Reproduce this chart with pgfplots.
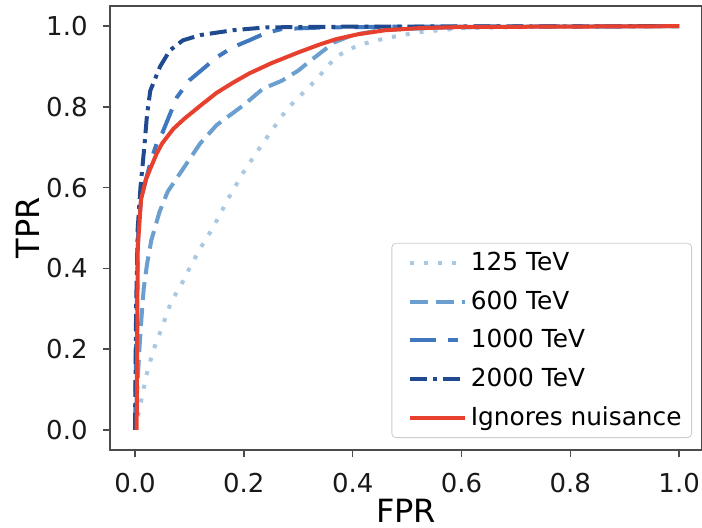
\documentclass[border=0pt]{standalone}
\usepackage{pgfplots}
\pgfplotsset{compat=1.18}
\usepackage{fontspec}
\setmainfont{DejaVu Sans}
\definecolor{c125}{HTML}{A9C8E2}
\definecolor{c600}{HTML}{6A9FCF}
\definecolor{c1000}{HTML}{3F78BF}
\definecolor{c2000}{HTML}{1F4A8F}
\definecolor{cred}{HTML}{E8402E}
\begin{document}
\begin{tikzpicture}
\begin{axis}[
  scale only axis, width=296pt, height=222pt,
  xmin=-0.046, xmax=1.042, ymin=-0.05, ymax=1.05,
  xtick={0,0.2,0.4,0.6,0.8,1.0}, ytick={0,0.2,0.4,0.6,0.8,1.0},
  xticklabels={0.0,0.2,0.4,0.6,0.8,1.0},
  yticklabels={0.0,0.2,0.4,0.6,0.8,1.0},
  /pgf/number format/assume math mode=true,
  tick align=outside, major tick length=3.5pt,
  xtick pos=bottom, ytick pos=left,
  every tick/.style={black!70, line width=0.7pt},
  axis line style={black!70, line width=0.8pt},
  tick label style={font=\fontsize{13}{15}\selectfont, inner sep=0pt, text=black!90},
  xticklabel style={anchor=north}, yticklabel style={anchor=east},
  xticklabel shift=8pt, yticklabel shift=7.5pt,
  xlabel={FPR}, ylabel={TPR},
  label style={font=\fontsize{16}{18}\selectfont, inner sep=0pt},
  xlabel style={at={(axis description cs:0.5,-0.1622)}, anchor=base},
  ylabel style={at={(axis description cs:-0.1182,0.5)}, anchor=south, rotate=0},
  legend cell align=left,
  legend style={at={(axis description cs:1,0)}, anchor=south east,
    xshift=-5pt, yshift=6pt, draw=black!20, rounded corners=2pt,
    font=\fontsize{12.4}{14}\selectfont, inner xsep=3pt, inner ysep=2.5pt,
    row sep=4.6pt, column sep=0pt},
  legend image code/.code={\path (-5pt,0pt); \draw[#1] (0pt,0pt) -- (27.5pt,0pt);},
  every axis plot/.append style={line width=2pt, line join=round},
]
\addplot[c125, dash pattern=on 2pt off 5pt] coordinates {
(0,0)(0.005,0.03)(0.011,0.07)(0.02,0.13)(0.033,0.195)(0.05,0.255)(0.066,0.316)
(0.085,0.36)(0.1,0.4)(0.12,0.45)(0.143,0.5)(0.171,0.572)(0.2,0.64)(0.237,0.714)
(0.28,0.796)(0.33,0.863)(0.37,0.925)(0.41,0.953)(0.46,0.97)(0.52,0.985)(0.6,0.995)
(0.75,0.999)(1,1)};
\addlegendentry{125 TeV}
\addplot[c600, dash pattern=on 9pt off 4pt] coordinates {
(0,0)(0.004,0.1)(0.008,0.2)(0.012,0.28)(0.016,0.35)(0.022,0.41)(0.03,0.47)
(0.045,0.54)(0.06,0.59)(0.085,0.64)(0.12,0.71)(0.15,0.755)(0.17,0.775)(0.2,0.805)
(0.235,0.845)(0.27,0.865)(0.3,0.89)(0.32,0.912)(0.366,0.96)(0.40,0.978)(0.45,0.99)
(0.55,0.996)(0.7,0.999)(1,1)};
\addlegendentry{600 TeV}
\addplot[c1000, dash pattern=on 13pt off 6pt on 5pt off 6pt] coordinates {
(0,0)(0.003,0.3)(0.006,0.5)(0.012,0.58)(0.02,0.62)(0.03,0.67)(0.04,0.71)(0.05,0.735)
(0.077,0.824)(0.1,0.866)(0.13,0.9)(0.15,0.923)(0.18,0.948)(0.21,0.965)(0.24,0.983)
(0.27,0.993)(0.35,0.997)(0.5,0.999)(1,1)};
\addlegendentry{1000 TeV}
\addplot[c2000, dash pattern=on 8.5pt off 3pt on 2pt off 3pt] coordinates {
(0,0)(0.002,0.3)(0.005,0.5)(0.01,0.6)(0.017,0.7)(0.022,0.78)(0.028,0.84)(0.046,0.9)
(0.064,0.94)(0.088,0.965)(0.12,0.978)(0.18,0.99)(0.24,0.997)(0.4,0.999)(1,1)};
\addlegendentry{2000 TeV}
\addplot[cred, solid] coordinates {
(0.003,0)(0.005,0.45)(0.011,0.57)(0.02,0.62)(0.029,0.65)(0.04,0.685)(0.05,0.71)
(0.07,0.745)(0.09,0.77)(0.12,0.803)(0.15,0.835)(0.18,0.86)(0.21,0.883)(0.25,0.908)
(0.30,0.935)(0.34,0.955)(0.37,0.968)(0.41,0.98)(0.46,0.99)(0.52,0.995)(0.6,0.998)(1,1)};
\addlegendentry{Ignores nuisance}
\end{axis}
\pgfresetboundingbox
\path[use as bounding box] (-55pt,-38.5pt) rectangle (296pt,225pt);
\end{tikzpicture}
\end{document}
